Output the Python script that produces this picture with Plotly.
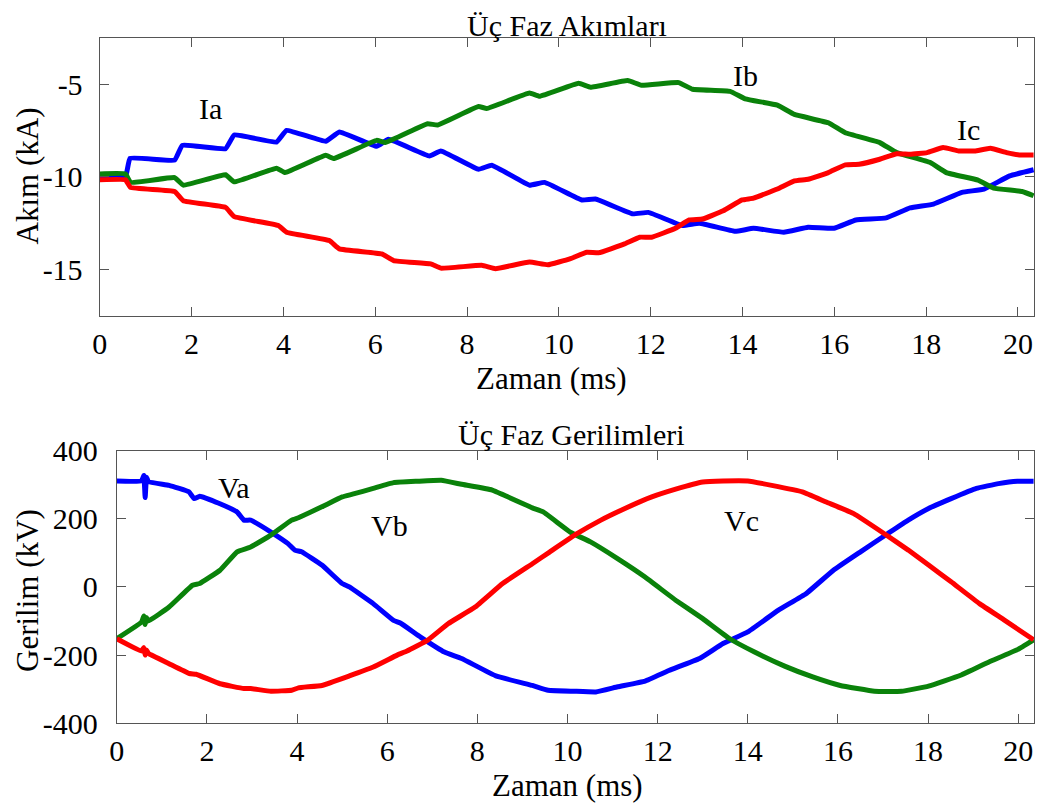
import plotly.graph_objects as go

# ---- Top: three-phase currents (kA) ----
Ia_t = [0, 0.56, 0.66, 1.63, 1.8, 2.74, 2.93, 3.85, 4.07, 4.92, 5.22, 6.03, 6.29, 7.18, 7.43, 8.25, 8.54, 9.36,
        9.69, 10.5, 10.8, 11.61, 11.95, 12.69, 13.06, 13.84, 14.24, 14.9, 15.43, 15.99, 16.47, 17.13, 17.65,
        18.16, 18.78, 19.26, 19.82, 20.34]
Ia_v = [-10.0, -10.0, -9.0, -9.1, -8.3, -8.48, -7.74, -8.12, -7.49, -8.08, -7.58, -8.35, -7.97, -8.87, -8.6,
        -9.59, -9.37, -10.45, -10.3, -11.25, -11.2, -12.0, -11.92, -12.63, -12.5, -12.94, -12.78, -12.99, -12.72,
        -12.78, -12.33, -12.22, -11.68, -11.47, -10.84, -10.66, -9.95, -9.62]

Ib_t = [0, 0.56, 0.67, 1.63, 1.82, 2.74, 2.93, 3.85, 4.04, 4.92, 5.1, 6.03, 6.22, 7.14, 7.36, 8.25, 8.43, 9.36,
        9.58, 10.43, 10.69, 11.5, 11.8, 12.61, 12.91, 13.73, 14.06, 14.76, 15.13, 15.87, 16.24, 16.99, 17.36,
        18.09, 18.44, 19.13, 19.47, 20.09, 20.34]
Ib_v = [-9.84, -9.84, -10.3, -10.04, -10.45, -9.89, -10.27, -9.53, -9.77, -8.84, -9.01, -8.03, -8.15, -7.13,
        -7.2, -6.2, -6.31, -5.47, -5.65, -4.95, -5.16, -4.8, -5.05, -4.91, -5.27, -5.38, -5.79, -6.13, -6.63,
        -7.08, -7.62, -8.15, -8.69, -9.23, -9.77, -10.18, -10.61, -10.79, -11.02]

Ic_t = [0, 0.56, 0.67, 1.63, 1.82, 2.74, 2.93, 3.89, 4.07, 5.0, 5.22, 6.14, 6.4, 7.21, 7.43, 8.32, 8.62, 9.36,
        9.76, 10.24, 10.61, 10.87, 11.43, 11.76, 12.02, 12.54, 12.84, 13.13, 13.58, 13.99, 14.24, 14.76, 15.13,
        15.43, 15.87, 16.24, 16.54, 16.99, 17.36, 17.65, 18.02, 18.37, 18.71, 19.06, 19.40, 19.75, 20.03, 20.34]
Ic_v = [-10.16, -10.16, -10.57, -10.79, -11.29, -11.65, -12.15, -12.63, -12.99, -13.44, -13.89, -14.16, -14.52,
        -14.7, -14.93, -14.78, -14.96, -14.6, -14.75, -14.43, -14.07, -14.1, -13.62, -13.26, -13.26, -12.78,
        -12.33, -12.28, -11.83, -11.25, -11.15, -10.66, -10.22, -10.13, -9.77, -9.35, -9.32, -9.05, -8.75,
        -8.78, -8.69, -8.42, -8.6, -8.6, -8.46, -8.69, -8.82, -8.82]

# ---- Bottom: three-phase voltages (kV) ----
Va_t = [0, 0.55, 0.6, 0.63, 0.66, 0.7, 1.16, 1.6, 1.72, 1.84, 2.29, 2.67, 2.82, 2.97, 3.42, 3.8, 3.95, 4.1,
        4.55, 5.0, 5.16, 5.69, 6.14, 6.29, 6.74, 7.27, 7.65, 8.41, 9.22, 9.57, 10.14, 10.63, 11.11, 11.72, 12.25,
        12.93, 13.45, 14.0, 14.68, 15.29, 15.9, 16.5, 17.1, 17.56, 18.01, 18.51, 19.07, 19.56, 19.98, 20.34]
Va_v = [311, 311, 327, 262, 322, 309, 298, 279, 259, 266, 244, 220, 196, 196, 161, 127, 108, 103, 64, 10, 0,
        -49, -98, -106, -147, -191, -210, -261, -289, -303, -306, -308, -293, -276, -245, -210, -166, -132, -68,
        -20, 49, 103, 156, 196, 230, 259, 289, 303, 310, 310]

Vb_t = [0, 0.55, 0.6, 0.63, 0.66, 0.7, 1.16, 1.68, 1.84, 2.29, 2.67, 2.97, 3.42, 3.88, 4.03, 4.55, 5.0, 5.23,
        5.69, 6.14, 6.67, 7.2, 7.65, 8.33, 9.22, 9.46, 10.06, 10.51, 11.11, 11.72, 12.4, 13.0, 13.6, 14.15, 14.83,
        15.44, 16.05, 16.81, 17.41, 18.01, 18.72, 19.35, 19.98, 20.34]
Vb_v = [-152, -103, -85, -110, -90, -100, -59, 5, 10, 49, 103, 117, 152, 196, 203, 235, 264, 272, 289, 306, 310,
        313, 301, 284, 232, 220, 161, 132, 83, 29, -39, -93, -152, -191, -233, -264, -289, -306, -306, -291,
        -259, -220, -184, -155]

Vc_t = [0, 0.55, 0.6, 0.63, 0.66, 0.7, 1.16, 1.61, 1.76, 2.29, 2.82, 2.97, 3.42, 3.88, 4.03, 4.55, 5.16, 5.69,
        6.22, 6.44, 6.9, 7.35, 7.95, 8.56, 9.22, 9.61, 10.21, 10.74, 11.19, 11.87, 12.4, 13.0, 13.45, 14.0, 14.53,
        15.21, 15.74, 16.35, 17.03, 17.56, 18.01, 18.51, 19.14, 19.70, 20.34]
Vc_v = [-152, -188, -178, -200, -185, -195, -225, -254, -256, -284, -298, -298, -306, -303, -296, -289, -261,
        -235, -200, -188, -156, -108, -59, 10, 68, 103, 156, 196, 225, 264, 287, 308, 311, 311, 298, 279, 249,
        215, 156, 108, 64, 15, -49, -98, -155]

x_ticks = [0, 2, 4, 6, 8, 10, 12, 14, 16, 18, 20]
i_ticks = [-15, -10, -5]
v_ticks = [-400, -200, 0, 200, 400]

BLUE, GREEN, RED = "#0000FF", "#0A820A", "#FF0000"
FONT = "Liberation Serif"
LW = 5

fig = go.Figure()
for t, v, c in [(Ia_t, Ia_v, BLUE), (Ib_t, Ib_v, GREEN), (Ic_t, Ic_v, RED)]:
    fig.add_trace(go.Scatter(x=t, y=v, mode="lines", line=dict(color=c, width=LW, shape="spline", smoothing=0.3),
                             xaxis="x", yaxis="y", showlegend=False))
for t, v, c in [(Va_t, Va_v, BLUE), (Vb_t, Vb_v, GREEN), (Vc_t, Vc_v, RED)]:
    fig.add_trace(go.Scatter(x=t, y=v, mode="lines", line=dict(color=c, width=LW, shape="spline", smoothing=0.3),
                             xaxis="x2", yaxis="y2", showlegend=False))

# layout placement helpers: convert a target position in the final picture to paper fractions
W, H = 1060, 830
OX, SX, OY, SY = 7.5, 0.99, 16.0, 0.96
def px(x):
    return ((x - OX) / SX) / W
def py(y):
    return 1 - ((y - OY) / SY) / H

axis_common = dict(showgrid=False, zeroline=False, showline=True, linecolor="#555555", linewidth=1.2,
                   mirror="allticks", ticks="inside", ticklen=9, tickcolor="#555555", tickwidth=1.2,
                   tickfont=dict(family=FONT, size=30, color="black"))

fig.update_layout(
    width=W, height=H, margin=dict(l=0, r=0, t=0, b=0),
    paper_bgcolor="white", plot_bgcolor="white",
    xaxis=dict(domain=[px(99), px(1031)], range=[0, 20.35], anchor="y", ticklabelstandoff=1,
               tickvals=x_ticks, ticktext=[str(v) for v in x_ticks], **axis_common),
    yaxis=dict(domain=[py(315), py(37)], range=[-17.5, -2.5], anchor="x", ticklabelstandoff=10,
               tickvals=i_ticks, ticktext=[str(v) for v in i_ticks], **axis_common),
    xaxis2=dict(domain=[px(116), px(1031)], range=[0, 20.35], anchor="y2", ticklabelstandoff=1,
                tickvals=x_ticks, ticktext=[str(v) for v in x_ticks], **axis_common),
    yaxis2=dict(domain=[py(723), py(450)], range=[-400, 400], anchor="x2", ticklabelstandoff=12,
                tickvals=v_ticks, ticktext=[str(v) for v in v_ticks], **axis_common),
)

def txt(text, x, y, size=31, angle=0, xref="paper", yref="paper"):
    fig.add_annotation(text=text, x=x, y=y, xref=xref, yref=yref, showarrow=False, textangle=angle,
                       font=dict(family=FONT, size=size, color="black"), xanchor="center", yanchor="middle")

# titles and axis labels
txt("Üç Faz Akımları", px(565), py(25), size=30)
txt("Zaman (ms)", px(550), py(378))
txt("Akım (kA)", px(27), py(175), angle=-90)
txt("Üç Faz Gerilimleri", px(570), py(434), size=30)
txt("Zaman (ms)", px(566), py(785))
txt("Gerilim (kV)", px(27), py(590), angle=-90)

# series labels
txt("Ia", 2.42, -6.33, size=30, xref="x", yref="y")
txt("Ib", 14.07, -4.5, size=30, xref="x", yref="y")
txt("Ic", 18.93, -7.46, size=30, xref="x", yref="y")
txt("Va", 2.6, 292, size=30, xref="x2", yref="y2")
txt("Vb", 6.04, 181, size=30, xref="x2", yref="y2")
txt("Vc", 13.87, 196, size=30, xref="x2", yref="y2")

fig.write_html("out.html")
